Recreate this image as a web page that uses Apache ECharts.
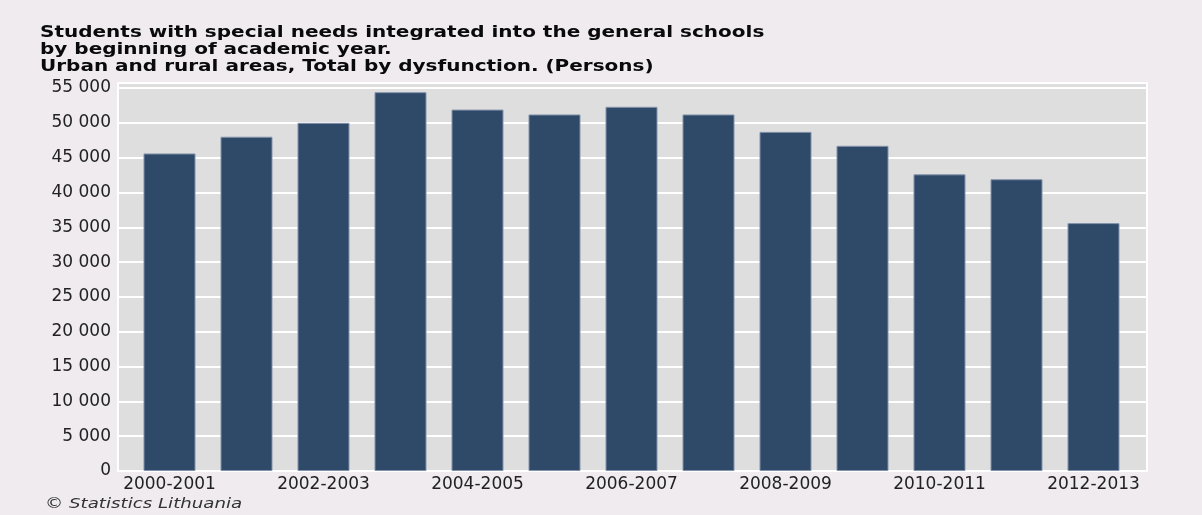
<!DOCTYPE html>
<html>
<head>
<meta charset="utf-8">
<script src="https://cdn.jsdelivr.net/npm/echarts@6/dist/echarts.min.js"></script>
<style>
html, body { margin: 0; padding: 0; background: #efebef; }
#chart { width: 1202px; height: 515px; }
</style>
</head>
<body>
<div id="chart"></div>
<script>
var years = ['2000-2001', '2001-2002', '2002-2003', '2003-2004', '2004-2005', '2005-2006',
	'2006-2007', '2007-2008', '2008-2009', '2009-2010', '2010-2011', '2011-2012', '2012-2013'];
var students = [45600, 48000, 50000, 54400, 51900, 51200, 52300, 51200, 48700, 46700, 42600, 41900, 35600];
var titleLines = [
	'Students with special needs integrated into the general schools',
	'by beginning of academic year.',
	'Urban and rural areas, Total by dysfunction. (Persons)'
];
var sourceText = '\u00a9 Statistics Lithuania';

var chart = echarts.init(document.getElementById('chart'));

// thousands separated by a space, as in the original
function fmt(v) {
	return String(v).replace(/\B(?=(\d{3})+(?!\d))/g, ' ');
}

var option = {
	backgroundColor: '#efebef',
	animation: false,
	graphic: [{
		type: 'text',
		left: 40,
		top: 24,
		scaleX: 1.25,
		style: {
			text: titleLines.join('\n'),
			font: 'bold 16px "DejaVu Sans"',
			lineHeight: 17,
			fill: '#0a0a0a'
		}
	}, {
		type: 'text',
		left: 45,
		top: 497,
		scaleX: 1.3,
		style: {
			text: sourceText,
			font: 'italic 14px "DejaVu Sans"',
			fill: '#333'
		}
	}],
	grid: [
		// background frame
		{ left: 118, right: 55, top: 83, bottom: 44, show: true, backgroundColor: '#dedede',
			borderColor: '#ffffff', borderWidth: 2 },
		// value axis and split lines
		{ left: 118, right: 55, top: 88, bottom: 44 },
		// bars
		{ left: 131, right: 70, top: 88, bottom: 44 }
	],
	xAxis: [
		{ gridIndex: 0, type: 'value', show: false },
		{ gridIndex: 1, type: 'value', show: false },
		{
			gridIndex: 2,
			type: 'category',
			data: years,
			boundaryGap: true,
			axisLine: { show: false },
			axisTick: { show: false },
			axisLabel: {
				interval: 1,
				margin: 5,
				color: '#222',
				fontFamily: 'DejaVu Sans',
				fontSize: 17
			}
		}
	],
	yAxis: [
		{ gridIndex: 0, type: 'value', show: false },
		{
			gridIndex: 1,
			type: 'value',
			min: 0,
			max: 55000,
			interval: 5000,
			axisLine: { show: false },
			axisTick: { show: false },
			axisLabel: {
				margin: 7,
				color: '#222',
				fontFamily: 'DejaVu Sans',
				fontSize: 17,
				formatter: fmt
			},
			splitLine: { lineStyle: { color: '#ffffff', width: 2 } }
		},
		{ gridIndex: 2, type: 'value', min: 0, max: 55000, show: false }
	],
	series: [{
		type: 'bar',
		xAxisIndex: 2,
		yAxisIndex: 2,
		data: students,
		barWidth: 52,
		itemStyle: {
			color: '#2f4969',
			borderColor: '#8393ab',
			borderWidth: 1
		}
	}]
};

chart.setOption(option);
</script>
</body>
</html>
